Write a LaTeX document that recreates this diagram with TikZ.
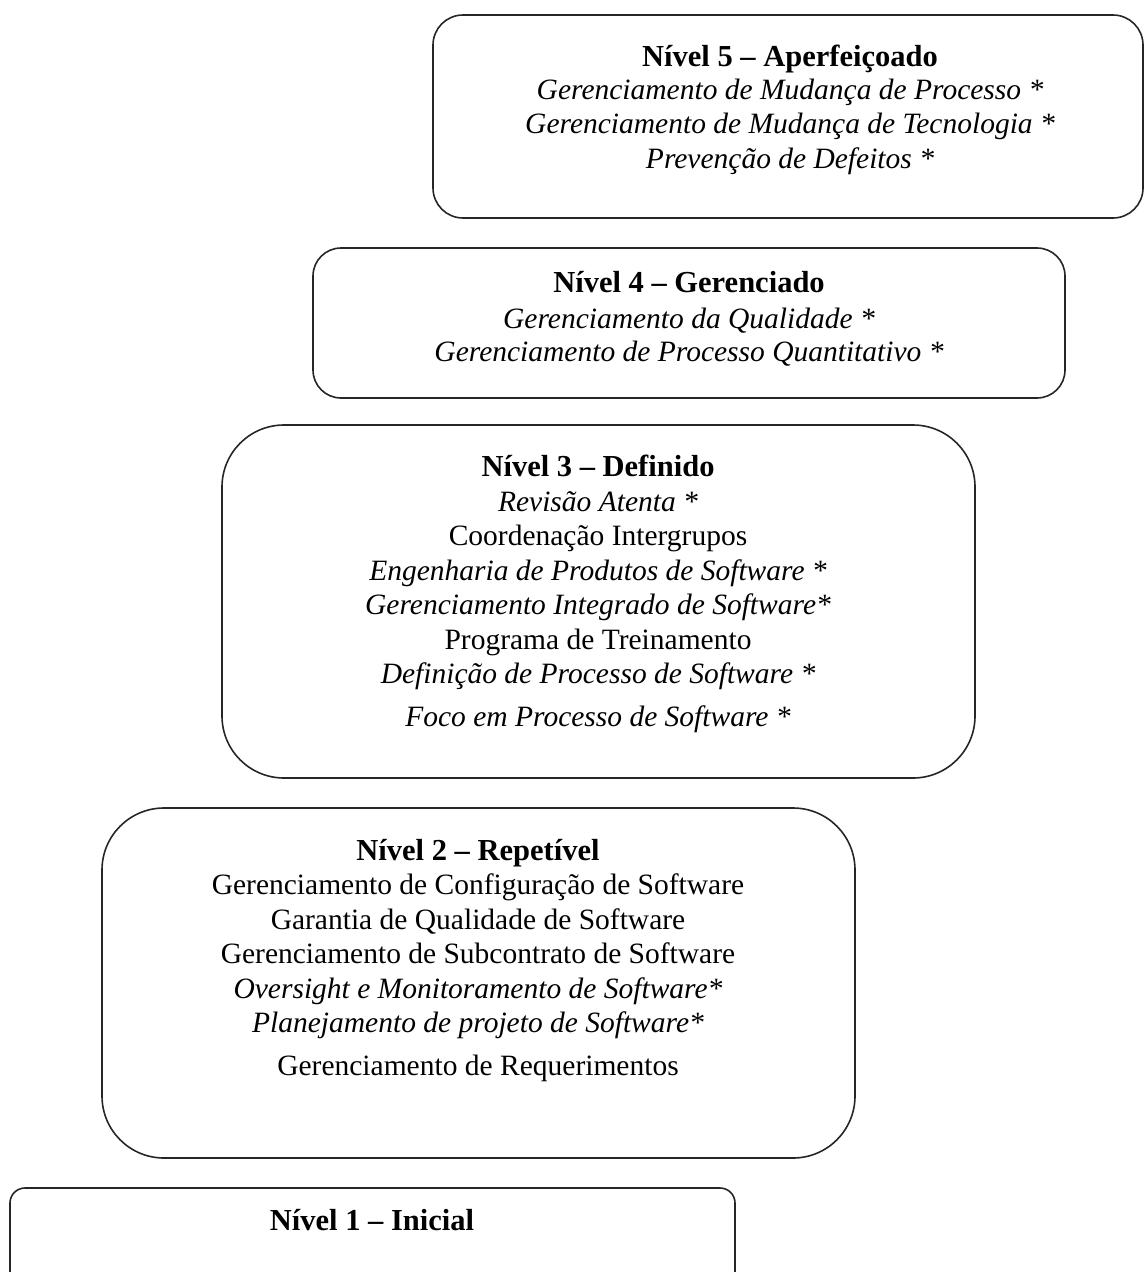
\documentclass[tikz,border=0pt]{standalone}
\usepackage{fontspec}
\setmainfont{Liberation Serif}
\begin{document}
\begin{tikzpicture}[x=1pt,y=-1pt,
  level/.style={draw=black!85, line width=1.6pt, rectangle, inner sep=0pt},
  body/.style={anchor=north, align=center, inner sep=0pt,
    font=\fontsize{29.5}{34.5}\selectfont},
  ttl/.style={font=\fontsize{31}{34.5}\selectfont\bfseries}]
\clip (0,0) rectangle (1147,1272);

% the five maturity levels, stacked as a staircase
\node[level, rounded corners=30pt, minimum width=710pt, minimum height=203pt] (n5) at (788,116.5) {};
\node[level, rounded corners=28pt, minimum width=752pt, minimum height=150pt] (n4) at (689,323) {};
\node[level, rounded corners=62pt, minimum width=753pt, minimum height=353pt] (n3) at (598.5,601.5) {};
\node[level, rounded corners=62pt, minimum width=753pt, minimum height=350pt] (n2) at (478.5,983) {};
\node[level, rounded corners=15pt, minimum width=725pt, minimum height=110pt] (n1) at (372.5,1243) {};

% key process areas of each level
\node[body] (t5) at (790,45) {{\fontsize{30.5}{34.5}\selectfont\bfseries Nível 5 – Aperfeiçoado}\\[-2pt]
  \textit{Gerenciamento de Mudança de Processo *}\\
  \textit{Gerenciamento de Mudança de Tecnologia *}\\
  \textit{Prevenção de Defeitos *}};

\node[body] (t4) at (689,271) {{\fontsize{30.5}{34.5}\selectfont\bfseries Nível 4 – Gerenciado}\\[2pt]
  \textit{Gerenciamento da Qualidade *}\\[-2pt]
  \textit{Gerenciamento de Processo Quantitativo *}};

\node[body] (t3) at (598,455) {{\fontsize{30.5}{34.5}\selectfont\bfseries Nível 3 – Definido}\\
  \textit{Revisão Atenta *}\\
  Coordenação Intergrupos\\
  \textit{Engenharia de Produtos de Software *}\\
  \textit{Gerenciamento Integrado de Software*}\\
  Programa de Treinamento\\
  \textit{Definição de Processo de Software *}\\[8pt]
  \textit{Foco em Processo de Software *}};

\node[body] (t2) at (478,839) {{\fontsize{30.5}{34.5}\selectfont\bfseries Nível 2 – Repetível}\\
  Gerenciamento de Configuração de Software\\
  Garantia de Qualidade de Software\\
  Gerenciamento de Subcontrato de Software\\
  \textit{Oversight e Monitoramento de Software*}\\
  \textit{Planejamento de projeto de Software*}\\[8pt]
  Gerenciamento de Requerimentos};

\node[body] (t1) at (372,1209) {{\fontsize{30.5}{34.5}\selectfont\bfseries Nível 1 – Inicial}};
\end{tikzpicture}
\end{document}
